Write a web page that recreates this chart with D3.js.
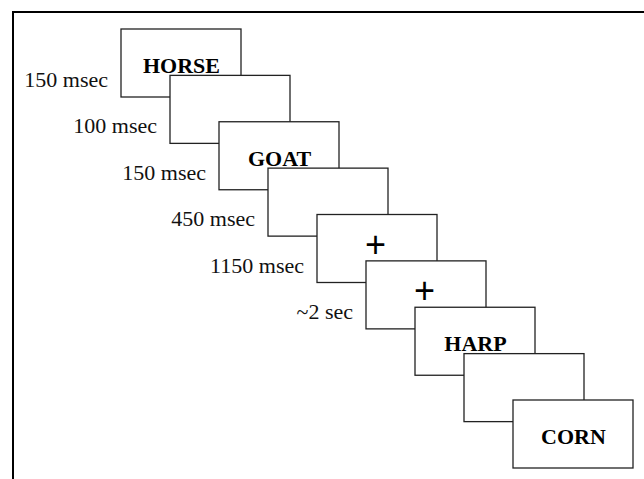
<!DOCTYPE html>
<html>
<head>
<meta charset="utf-8">
<script src="https://cdn.jsdelivr.net/npm/d3@7"></script>
<style>
	html, body { margin: 0; padding: 0; background: #fff; }
	svg { display: block; }
</style>
</head>
<body>
<div id="chart"></div>
<script>

// frame contents, in presentation order
var frames    = ["HORSE", "", "GOAT", "", "+", "+", "HARP", "", "CORN"];
// duration label for the leading frames
var durations = ["150 msec", "100 msec", "150 msec", "450 msec", "1150 msec", "~2 sec"];

var width  = 644,
	height = 479,
	boxW   = 120,
	boxH   = 68;

var serif = "'Liberation Serif', 'Times New Roman', serif";

var svg = d3.select("#chart")
	.append("svg")
	.attr("width", width)
	.attr("height", height);

var x = d3.scaleLinear()
	.domain([0, frames.length - 1])
	.range([121, 513]);

var y = d3.scaleLinear()
	.domain([0, frames.length - 1])
	.range([29, 400]);

// outer frame (top and left only, as in the original)
svg.append("path")
	.attr("d", "M13,479 L13,12 L644,12")
	.attr("fill", "none")
	.attr("stroke", "#000")
	.attr("stroke-width", 2);

// duration labels
svg.append("g")
	.selectAll("text")
	.data(durations)
	.enter()
	.append("text")
	.attr("x", function(d, i) { return x(i) - 13; })
	.attr("y", function(d, i) { return y(i) + 58; })
	.attr("text-anchor", "end")
	.style("font-family", serif)
	.style("font-size", "22px")
	.style("fill", "#111")
	.text(function(d) { return d; });

// frames, drawn in order so each one covers the previous
svg.append("g")
	.selectAll("rect")
	.data(frames)
	.enter()
	.append("rect")
	.attr("x", function(d, i) { return x(i); })
	.attr("y", function(d, i) { return y(i); })
	.attr("width", boxW)
	.attr("height", boxH)
	.attr("fill", "#fff")
	.attr("stroke", "#222")
	.attr("stroke-width", 1.3);

// frame contents on top (none of them is covered in the original)
var words = svg.append("g");

words.selectAll("text.word")
	.data(frames.map(function(d, i) { return { t: d, i: i }; })
		.filter(function(d) { return d.t && d.t !== "+"; }))
	.enter()
	.append("text")
	.attr("class", "word")
	.attr("x", function(d) { return x(d.i) + boxW / 2 + 0.5; })
	.attr("y", function(d) { return y(d.i) + 44; })
	.attr("text-anchor", "middle")
	.style("font-family", serif)
	.style("font-size", "22px")
	.style("font-weight", "bold")
	.style("fill", "#000")
	.text(function(d) { return d.t; });

words.selectAll("text.fix")
	.data(frames.map(function(d, i) { return { t: d, i: i }; })
		.filter(function(d) { return d.t === "+"; }))
	.enter()
	.append("text")
	.attr("class", "fix")
	.attr("x", function(d) { return x(d.i) + boxW / 2 - 1.5; })
	.attr("y", function(d) { return y(d.i) + 42; })
	.attr("text-anchor", "middle")
	.style("font-family", "'Liberation Sans', Arial, sans-serif")
	.style("font-size", "36px")
	.style("fill", "#000")
	.text(function(d) { return d.t; });

</script>
</body>
</html>
